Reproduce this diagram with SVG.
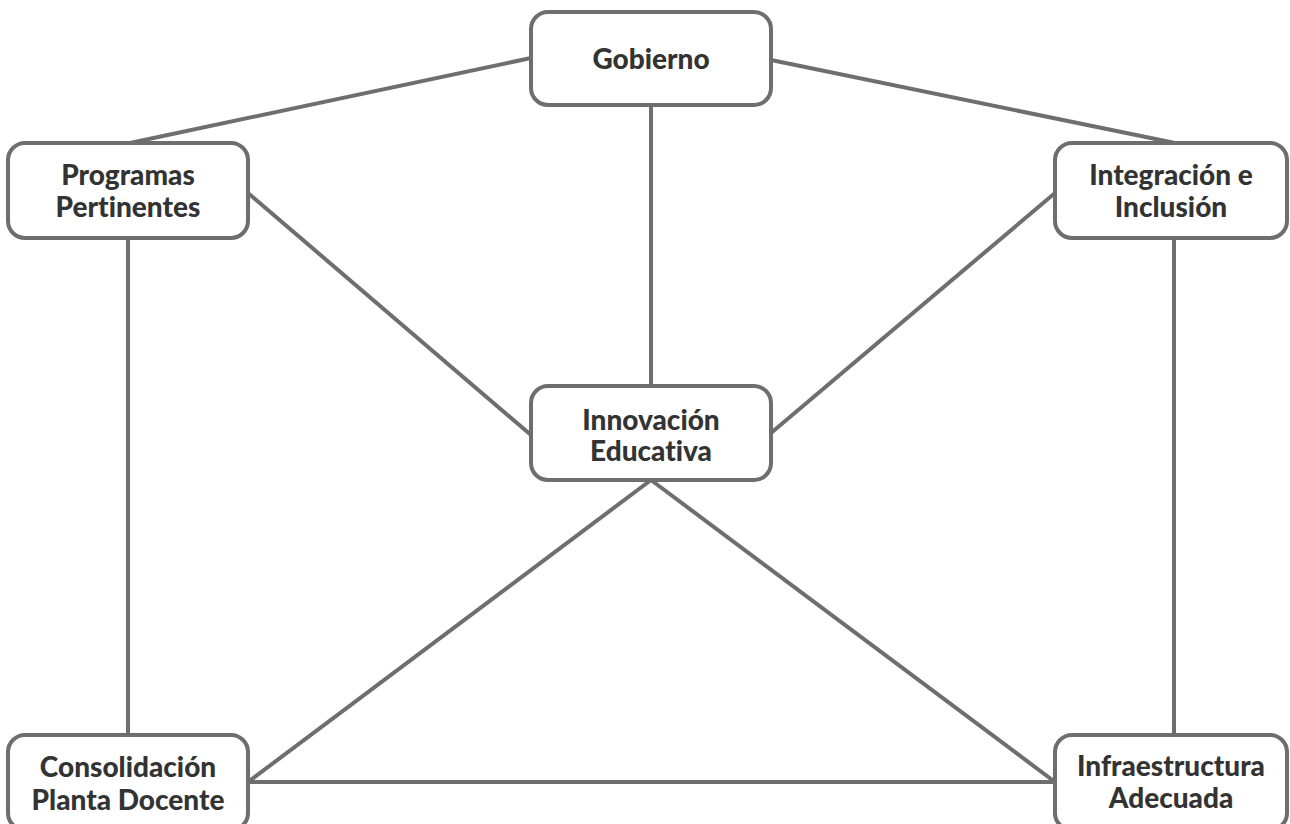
<svg xmlns="http://www.w3.org/2000/svg" width="1290" height="824" viewBox="0 0 1290 824">
<style>
.node rect{fill:#ffffff;stroke:#6e6e6e;stroke-width:4}
.node text{font-family:Lato,"Open Sans","Liberation Sans",sans-serif;font-weight:900;font-size:28px;fill:#333333;text-anchor:middle;font-variant-ligatures:none;font-feature-settings:"liga" 0,"dlig" 0}
#connectors line{stroke:#6e6e6e;stroke-width:4;fill:none}
</style>
<rect width="1290" height="824" fill="#ffffff"/>
<g id="connectors">
<line x1="531" y1="58" x2="130" y2="143"/>
<line x1="771" y1="60" x2="1175" y2="143"/>
<line x1="651" y1="105" x2="651" y2="386"/>
<line x1="248" y1="193" x2="531" y2="435"/>
<line x1="1055" y1="193" x2="771" y2="433"/>
<line x1="128" y1="238" x2="128" y2="735"/>
<line x1="1174" y1="238" x2="1174" y2="735"/>
<line x1="651" y1="480" x2="248" y2="782"/>
<line x1="651" y1="480" x2="1055" y2="782"/>
<line x1="248" y1="782" x2="1055" y2="782"/>
</g>
<g id="gobierno" class="node">
<rect x="531" y="12" width="240" height="93" rx="17"/>
<text x="651" y="69">Gobierno</text>
</g>
<g id="programas" class="node">
<rect x="8" y="143" width="240" height="95" rx="17"/>
<text x="128" y="185">Programas</text>
<text x="128" y="217">Pertinentes</text>
</g>
<g id="integracion" class="node">
<rect x="1055" y="143" width="232" height="95" rx="17"/>
<text x="1171" y="185">Integración e</text>
<text x="1171" y="217">Inclusión</text>
</g>
<g id="innovacion" class="node">
<rect x="531" y="386" width="240" height="94" rx="17"/>
<text x="651" y="430">Innovación</text>
<text x="651" y="461">Educativa</text>
</g>
<g id="consolidacion" class="node">
<rect x="8" y="735" width="240" height="95" rx="17"/>
<text x="128" y="777">Consolidación</text>
<text x="128" y="810">Planta Docente</text>
</g>
<g id="infraestructura" class="node">
<rect x="1055" y="735" width="232" height="95" rx="17"/>
<text x="1171" y="776">Infraestructura</text>
<text x="1171" y="808">Adecuada</text>
</g>
</svg>
